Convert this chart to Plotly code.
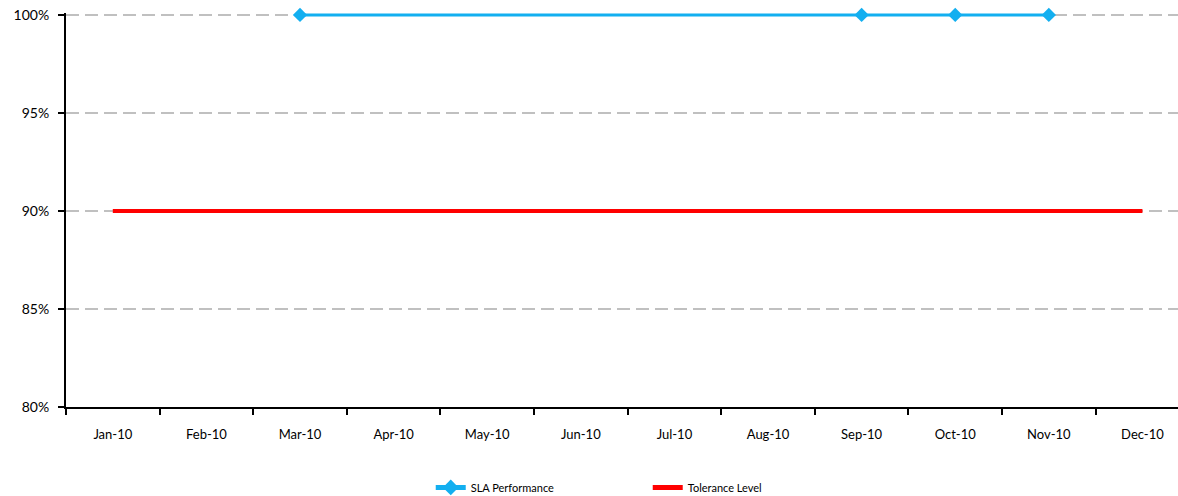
import plotly.graph_objects as go

months = ["Jan-10", "Feb-10", "Mar-10", "Apr-10", "May-10", "Jun-10",
          "Jul-10", "Aug-10", "Sep-10", "Oct-10", "Nov-10", "Dec-10"]
sla_performance = [None, None, 1.0, None, None, None, None, None, 1.0, 1.0, 1.0, None]
tolerance_level = [0.90] * 12

FONT = "Comic Sans MS, Lato, sans-serif"

fig = go.Figure()
fig.add_trace(go.Scatter(
    x=months, y=sla_performance, name="SLA Performance", mode="lines+markers",
    connectgaps=True, line=dict(color="#13AFF0", width=3),
    marker=dict(symbol="diamond", size=11, color="#13AFF0"), cliponaxis=False))
fig.add_trace(go.Scatter(
    x=months, y=tolerance_level, name="Tolerance Level", mode="lines",
    line=dict(color="#FF0000", width=4)))

fig.update_layout(
    width=1178, height=496, autosize=False,
    margin=dict(l=66, r=0, t=13, b=89, autoexpand=False),
    plot_bgcolor="white", paper_bgcolor="white",
    font=dict(family=FONT, size=14, color="black"),
    showlegend=True,
    legend=dict(orientation="h", x=0.328, xanchor="left", y=-0.204, yanchor="middle",
                font=dict(size=11), entrywidth=172, entrywidthmode="pixels",
                itemsizing="constant"),
    xaxis=dict(type="category", categoryorder="array", categoryarray=months,
               range=[-0.5, 11.38], tickson="boundaries", ticks="outside", ticklen=6,
               tickwidth=1.5, tickcolor="black", showline=True, linecolor="black",
               linewidth=2, showgrid=False, tickfont=dict(size=13), ticklabelstandoff=14,
               automargin=False),
    yaxis=dict(range=[0.8, 1.001], tickvals=[0.8, 0.85, 0.9, 0.95, 1.0],
               tickformat=".0%", ticks="outside",
               ticklen=6, tickwidth=1.5, tickcolor="black", showline=True,
               linecolor="black", linewidth=2, showgrid=True, gridcolor="#C0C0C0",
               gridwidth=2, griddash="13px,6px", zeroline=False, tickfont=dict(size=14),
               ticklabelstandoff=6, automargin=False),
)

fig.write_html("out.html", config={"displayModeBar": False},
               post_script="document.body.style.margin='0';document.body.style.overflow='hidden';")
